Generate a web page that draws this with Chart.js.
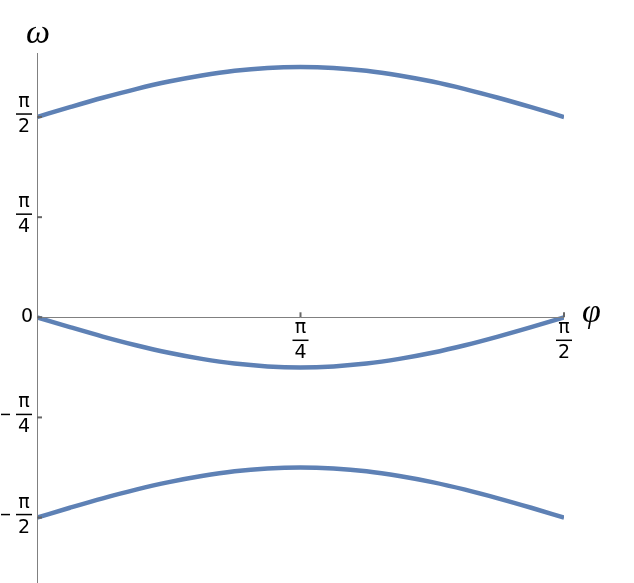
<!DOCTYPE html>
<html>
<head>
<meta charset="utf-8">
<script src="https://cdn.jsdelivr.net/npm/chart.js@4/dist/chart.umd.min.js"></script>
<style>
  html, body { margin: 0; padding: 0; background: #fff; }
  #grafico { display: block; }
</style>
</head>
<body>
<canvas id="grafico" width="634" height="583"></canvas>
<script>
// valores de phi (radianos), lidos em passos de pi/32
const phi = [0, 0.098, 0.196, 0.295, 0.393, 0.491, 0.589, 0.687, 0.785,
  0.884, 0.982, 1.080, 1.178, 1.276, 1.374, 1.473, 1.571];

// os tres ramos de omega
const omegaTopo = [1.571, 1.648, 1.722, 1.790, 1.849, 1.897, 1.934, 1.956, 1.963,
  1.956, 1.934, 1.897, 1.849, 1.790, 1.722, 1.648, 1.571];
const omegaMeio = [0, -0.077, -0.151, -0.219, -0.278, -0.326, -0.363, -0.385, -0.393,
  -0.385, -0.363, -0.326, -0.278, -0.219, -0.151, -0.077, 0];
const omegaBaixo = [-1.571, -1.494, -1.420, -1.352, -1.293, -1.245, -1.208, -1.186, -1.178,
  -1.186, -1.208, -1.245, -1.293, -1.352, -1.420, -1.494, -1.571];

const xTicks = [Math.PI / 4, Math.PI / 2];
const xTickLabels = ["π/4", "π/2"];
const yTicks = [-Math.PI / 2, -Math.PI / 4, 0, Math.PI / 4, Math.PI / 2];
const yTickLabels = ["-π/2", "-π/4", "0", "π/4", "π/2"];

const corLinha = "#5e81b5";
const corEixo = "#808080";
const fonteRotulo = '19px "DejaVu Sans", sans-serif';

function serie(valores) {
  return phi.map((p, i) => ({ x: p, y: valores[i] }));
}

// desenha um rotulo em forma de fracao (ex: "π/4") centrado em cx, barra em by
function desenhaFracao(ctx, texto, cx, by) {
  let sinal = false;
  if (texto.startsWith("-")) {
    sinal = true;
    texto = texto.slice(1);
  }
  const partes = texto.split("/");
  ctx.font = fonteRotulo;
  ctx.fillStyle = "#000";
  ctx.textAlign = "center";
  ctx.textBaseline = "middle";
  ctx.fillText(partes[0], cx, by - 12);
  ctx.fillText(partes[1], cx, by + 13);
  ctx.fillRect(cx - 8, by - 0.75, 16, 1.5);
  if (sinal) {
    ctx.fillRect(cx - 23, by - 0.75, 9, 1.5);
  }
}

const eixosPlugin = {
  id: "eixos",
  afterDatasetsDraw(chart) {
    const ctx = chart.ctx;
    const sx = chart.scales.x;
    const sy = chart.scales.y;
    const x0 = sx.getPixelForValue(0);
    const y0 = sy.getPixelForValue(0);
    const area = chart.chartArea;

    ctx.save();
    // linhas dos eixos
    ctx.strokeStyle = corEixo;
    ctx.lineWidth = 1;
    ctx.beginPath();
    ctx.moveTo(Math.round(x0) + 0.5, area.top);
    ctx.lineTo(Math.round(x0) + 0.5, chart.height);
    ctx.moveTo(x0, Math.round(y0) + 0.5);
    ctx.lineTo(sx.getPixelForValue(Math.PI / 2), Math.round(y0) + 0.5);
    ctx.stroke();

    // marcas do eixo y (para dentro)
    ctx.strokeStyle = "#666";
    ctx.lineWidth = 2;
    yTicks.forEach((v) => {
      const py = sy.getPixelForValue(v);
      ctx.beginPath();
      ctx.moveTo(x0, py);
      ctx.lineTo(x0 + 5, py);
      ctx.stroke();
    });
    // marcas do eixo x (para cima)
    xTicks.forEach((v) => {
      const px = sx.getPixelForValue(v);
      ctx.beginPath();
      ctx.moveTo(px, y0);
      ctx.lineTo(px, y0 - 5);
      ctx.stroke();
    });

    // rotulos do eixo y
    yTicks.forEach((v, i) => {
      const py = sy.getPixelForValue(v);
      const txt = yTickLabels[i];
      if (txt.includes("/")) {
        desenhaFracao(ctx, txt, x0 - 13, py - 3);
      } else {
        ctx.font = fonteRotulo;
        ctx.fillStyle = "#000";
        ctx.textAlign = "right";
        ctx.textBaseline = "middle";
        ctx.fillText(txt, x0 - 4, py);
      }
    });
    // rotulos do eixo x
    xTicks.forEach((v, i) => {
      const px = sx.getPixelForValue(v);
      desenhaFracao(ctx, xTickLabels[i], px, y0 + 23);
    });

    // nomes dos eixos
    ctx.font = 'italic 34px "Liberation Serif", serif';
    ctx.fillStyle = "#000";
    ctx.textAlign = "left";
    ctx.textBaseline = "alphabetic";
    ctx.fillText("ω", x0 - 11, 43);
    ctx.fillText("φ", sx.getPixelForValue(Math.PI / 2) + 18, y0 + 5);
    ctx.restore();
  },
};

const linhaBase = {
  borderColor: corLinha,
  borderWidth: 4.5,
  pointRadius: 0,
  fill: false,
  cubicInterpolationMode: "monotone",
};

new Chart(document.getElementById("grafico"), {
  type: "line",
  data: {
    datasets: [
      { ...linhaBase, label: "topo", data: serie(omegaTopo) },
      { ...linhaBase, label: "meio", data: serie(omegaMeio) },
      { ...linhaBase, label: "baixo", data: serie(omegaBaixo) },
    ],
  },
  options: {
    responsive: false,
    animation: false,
    layout: {
      padding: { left: 37, right: 70, top: 53, bottom: 0 },
    },
    plugins: {
      legend: { display: false },
      tooltip: { enabled: false },
    },
    scales: {
      x: { type: "linear", min: 0, max: Math.PI / 2, display: false },
      y: { type: "linear", min: -2.084, max: 2.073, display: false },
    },
  },
  plugins: [eixosPlugin],
});
</script>
</body>
</html>
